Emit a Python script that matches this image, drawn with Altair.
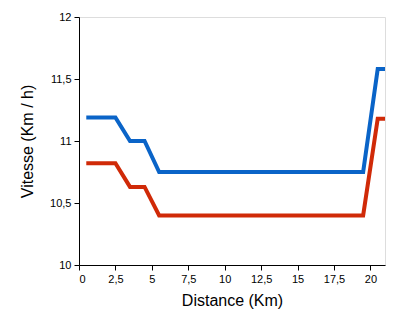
import altair as alt
import pandas as pd

distance = [0.5, 1.5, 2.5, 3.5, 4.5, 5.5, 6.5, 7.5, 8.5, 9.5, 10.5, 11.5, 12.5,
            13.5, 14.5, 15.5, 16.5, 17.5, 18.5, 19.5, 20.5, 21.0]
speed_blue = [11.19, 11.19, 11.19, 11.0, 11.0, 10.75, 10.75, 10.75, 10.75, 10.75, 10.75,
              10.75, 10.75, 10.75, 10.75, 10.75, 10.75, 10.75, 10.75, 10.75, 11.58, 11.58]
speed_red = [10.82, 10.82, 10.82, 10.63, 10.63, 10.40, 10.40, 10.40, 10.40, 10.40, 10.40,
             10.40, 10.40, 10.40, 10.40, 10.40, 10.40, 10.40, 10.40, 10.40, 11.18, 11.18]
series = ["Bleu", "Rouge"]
colors = ["#0a64c8", "#d02a08"]

rows = []
for d, b, r in zip(distance, speed_blue, speed_red):
    rows.append({"Distance": d, "Vitesse": b, "Série": series[0]})
    rows.append({"Distance": d, "Vitesse": r, "Série": series[1]})
df = pd.DataFrame(rows)

font = "Liberation Sans"

chart = alt.Chart(df).mark_line(strokeWidth=4, strokeJoin="miter").encode(
    x=alt.X("Distance:Q",
            scale=alt.Scale(domain=[0, 21], nice=False, zero=False),
            axis=alt.Axis(title="Distance (Km)", values=[0, 2.5, 5, 7.5, 10, 12.5, 15, 17.5, 20],
                          labelExpr="replace(format(datum.value, '~g'), '.', ',')",
                          grid=False, domainColor="black", tickColor="black", tickSize=5,
                          labelFont=font, labelFontSize=11, labelColor="black", labelPadding=3,
                          titleFont=font, titleFontSize=16, titleFontWeight="normal",
                          titleColor="black", titlePadding=8)),
    y=alt.Y("Vitesse:Q",
            scale=alt.Scale(domain=[10, 12], nice=False, zero=False),
            axis=alt.Axis(title="Vitesse (Km / h)", values=[10, 10.5, 11, 11.5, 12],
                          labelExpr="replace(format(datum.value, '~g'), '.', ',')",
                          grid=False, domainColor="black", tickColor="black", tickSize=5,
                          labelFont=font, labelFontSize=11, labelColor="black", labelPadding=3,
                          titleFont=font, titleFontSize=16, titleFontWeight="normal",
                          titleColor="black", titlePadding=14)),
    color=alt.Color("Série:N", scale=alt.Scale(domain=series, range=colors), legend=None),
).properties(
    width=306, height=248,
    autosize=alt.AutoSizeParams(type="none"),
    padding={"left": 79, "top": 17, "right": 22, "bottom": 65},
).configure_view(stroke=None).configure(background="white")

chart.save("out.html", embed_options={"renderer": "svg", "actions": False})
